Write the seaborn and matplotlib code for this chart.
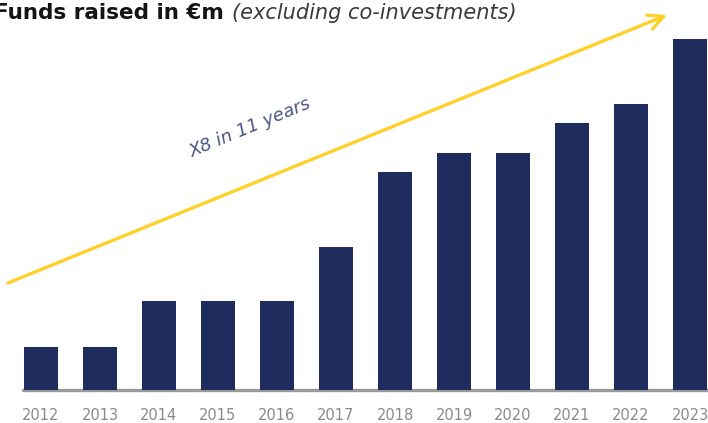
import matplotlib
matplotlib.use("Agg")
import matplotlib.pyplot as plt
import seaborn as sns
import pandas as pd

# Funds raised per year (relative bar heights, €m scale)
years = ["2012", "2013", "2014", "2015", "2016", "2017",
         "2018", "2019", "2020", "2021", "2022", "2023"]
funds = [43, 43, 89, 89, 89, 143, 218, 237, 237, 267, 286, 351]

title_main = "Funds raised in €m"
title_note = "(excluding co-investments)"
growth_label = "X8 in 11 years"

bar_color = "#1F2C5E"
arrow_color = "#FFD02A"
tick_color = "#8A8A8A"

sns.set_theme(style="white")
plt.rcParams["font.family"] = ["DejaVu Sans"]

W, H = 708, 423
fig = plt.figure(figsize=(W / 100, H / 100), dpi=100)
ax = fig.add_axes([23 / W, (H - 390) / H, 685 / W, 360 / H])

df = pd.DataFrame({"year": years, "funds": funds})
sns.barplot(data=df, x="year", y="funds", color=bar_color, width=0.58,
            saturation=1, linewidth=0, edgecolor=bar_color, ax=ax, zorder=3)

ax.set_xlim(-0.305, 11.305)
ax.set_ylim(0, 360)
ax.axhline(0, color="#9A9A9A", lw=2.4, zorder=2, clip_on=False)
for s in ax.spines.values():
    s.set_visible(False)
ax.set_yticks([])
ax.set_xlabel("")
ax.set_ylabel("")
ax.tick_params(axis="x", length=0, pad=13, labelsize=10.5, labelcolor=tick_color)

# growth arrow
ax.annotate("", xy=(10.61, 375), xytext=(-0.56, 107),
            xycoords="data", textcoords="data", annotation_clip=False,
            arrowprops=dict(arrowstyle="->,head_length=0.9,head_width=0.45",
                            color=arrow_color, lw=2.4, shrinkA=0, shrinkB=0),
            zorder=4)
ax.text(3.55, 262, growth_label, rotation=22.5, rotation_mode="anchor",
        ha="center", va="center", fontsize=13, style="italic",
        fontweight="light", color="#4C5784", zorder=5)

# title in two styles
t1 = fig.text(-6 / W, 1 - 19 / H, title_main, fontsize=15.5, color="#141414",
              fontweight="semibold", ha="left", va="baseline")
fig.canvas.draw()
bb = t1.get_window_extent(renderer=fig.canvas.get_renderer())
fig.text((bb.x1 + 8) / W, 1 - 19 / H, title_note, fontsize=15,
         style="italic", color="#3A3A3A", ha="left", va="baseline")

fig.savefig("out.png", dpi=100)
